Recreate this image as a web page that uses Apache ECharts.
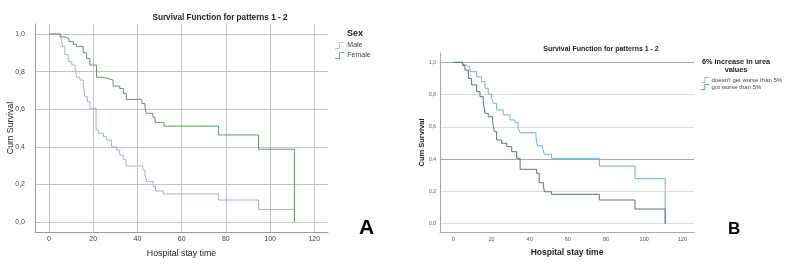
<!DOCTYPE html>
<html>
<head>
<meta charset="utf-8">
<script src="https://cdn.jsdelivr.net/npm/echarts@6/dist/echarts.min.js"></script>
<style>
  html, body { margin: 0; padding: 0; background: #fff; }
  #chart { width: 804px; height: 276px; }
</style>
</head>
<body>
<div id="chart"></div>
<script>
// tick values shared by both panels
const xTicks = [0, 20, 40, 60, 80, 100, 120];
const yTicks = [0, 0.2, 0.4, 0.6, 0.8, 1.0];

// panel A: by sex
const maleTime = [0, 5.4, 6.2, 7.2, 8.7, 10.3, 11.8, 12.5, 14, 15.5, 16.3, 17.3, 18.5, 21.3, 22.3, 24.6, 26, 28.3, 30.6, 32, 33.6, 34.8, 42.4, 43.4, 44.2, 47.2, 48.2, 51.7, 76.7, 94.8, 111];
const maleSurv = [1, 0.98, 0.933, 0.89, 0.853, 0.835, 0.817, 0.77, 0.755, 0.73, 0.667, 0.64, 0.605, 0.49, 0.472, 0.454, 0.436, 0.4, 0.383, 0.356, 0.333, 0.298, 0.277, 0.25, 0.215, 0.188, 0.165, 0.149, 0.117, 0.067, 0];
const femaleTime = [0, 5, 7, 9, 11, 12.5, 15.5, 17, 18.5, 21.5, 23.5, 26, 29, 32, 33.6, 35, 42, 43.4, 44, 47, 48, 52, 76.7, 94.8, 111];
const femaleSurv = [1, 0.985, 0.977, 0.96, 0.945, 0.933, 0.9, 0.87, 0.835, 0.77, 0.765, 0.755, 0.723, 0.71, 0.684, 0.652, 0.63, 0.613, 0.578, 0.557, 0.53, 0.51, 0.463, 0.387, 0];

// panel B: 5% increase in urea
const notWorseTime = [0, 4.9, 6.1, 8.7, 12.2, 14.8, 16.6, 18.3, 20, 21, 22.7, 26.2, 29.7, 32.3, 34, 35, 43.3, 44, 46.8, 47.7, 51.5, 76.5, 95.2, 111];
const notWorseSurv = [1, 0.985, 0.973, 0.942, 0.91, 0.88, 0.839, 0.804, 0.777, 0.746, 0.705, 0.674, 0.643, 0.626, 0.59, 0.564, 0.54, 0.483, 0.467, 0.43, 0.405, 0.357, 0.279, 0];
const worseTime = [0, 4.9, 6.1, 7.9, 9.6, 12.2, 14, 15.7, 16.6, 18.3, 20.6, 21.5, 22.7, 25.3, 28, 30.6, 33.2, 35, 43.7, 45, 47.2, 47.7, 51.5, 76.5, 95.2, 111];
const worseSurv = [1, 0.98, 0.952, 0.9, 0.86, 0.818, 0.787, 0.756, 0.684, 0.663, 0.632, 0.57, 0.519, 0.498, 0.478, 0.446, 0.405, 0.337, 0.312, 0.254, 0.238, 0.198, 0.182, 0.147, 0.091, 0];

const font = "'Liberation Sans', Arial, sans-serif";
const stepIcon = "path://M0,9 L6,9 L6,0 L14,0 L14,1.2 L7.2,1.2 L7.2,10.2 L0,10.2 Z";

const pairs = (t, s) => t.map((v, i) => [v, s[i]]);
const fmtY = (v) => v.toFixed(1).replace(".", ",");

const chart = echarts.init(document.getElementById("chart"));

const stepSeries = (name, t, s, color, idx) => ({
  name: name,
  type: "line",
  step: "end",
  xAxisIndex: idx,
  yAxisIndex: idx,
  symbol: "none",
  data: pairs(t, s),
  lineStyle: { color: color, width: 1 },
  itemStyle: { color: color },
});

const option = {
  animation: false,
  title: [
    { text: "Survival Function for patterns 1 - 2", left: 215, top: 9, textAlign: "center",
      textStyle: { fontFamily: font, fontSize: 8.2, fontWeight: "bold", color: "#222" } },
    { text: "Sex", left: 342, top: 24,
      textStyle: { fontFamily: font, fontSize: 9, fontWeight: "bold", color: "#222" } },
    { text: "A", left: 354, top: 213,
      textStyle: { fontFamily: font, fontSize: 21, fontWeight: "bold", color: "#000" } },
    { text: "Survival Function for patterns 1 - 2", left: 596, top: 41, textAlign: "center",
      textStyle: { fontFamily: font, fontSize: 7, fontWeight: "bold", color: "#222" } },
    { text: "6% increase in urea\nvalues", left: 731, top: 53, textAlign: "center",
      textStyle: { fontFamily: font, fontSize: 7.3, fontWeight: "bold", color: "#222", lineHeight: 8 } },
    { text: "B", left: 723, top: 216,
      textStyle: { fontFamily: font, fontSize: 17, fontWeight: "bold", color: "#000" } },
  ],
  legend: [
    { data: ["Male", "Female"], orient: "vertical", left: 330, top: 37,
      icon: stepIcon, itemWidth: 13, itemHeight: 7, itemGap: 3,
      lineStyle: { opacity: 0 },
      textStyle: { fontFamily: font, fontSize: 7, color: "#444", padding: [0, 0, 0, -4] } },
    { data: ["doesn't get worse than 5%", "got worse than 5%"], orient: "vertical", left: 696, top: 72,
      icon: stepIcon, itemWidth: 11, itemHeight: 6, itemGap: 1,
      lineStyle: { opacity: 0 },
      textStyle: { fontFamily: font, fontSize: 6, color: "#444", padding: [0, 0, 0, -4] } },
  ],
  grid: [
    { left: 35, top: 24, width: 293, height: 208 },
    { left: 440, top: 53, width: 254, height: 179 },
  ],
  xAxis: [
    {
      gridIndex: 0, type: "value", min: -6.33, max: 126.2,
      name: "Hospital stay time", nameLocation: "middle", nameGap: 17, nameMoveOverlap: false,
      nameTextStyle: { fontFamily: font, fontSize: 8.8, color: "#222" },
      axisLine: { show: true, onZero: false, lineStyle: { color: "#9a9a9a", width: 1 } },
      axisTick: { show: false, customValues: xTicks },
      axisLabel: { customValues: xTicks, fontFamily: font, fontSize: 7, color: "#444", margin: 4 },
      splitLine: { show: true, lineStyle: { color: "#c4c4c4", width: 1 } },
    },
    {
      gridIndex: 1, type: "value", min: -6.97, max: 126.1,
      name: "Hospital stay time", nameLocation: "middle", nameGap: 16, nameMoveOverlap: false,
      nameTextStyle: { fontFamily: font, fontSize: 8.5, fontWeight: "bold", color: "#222" },
      axisLine: { show: true, onZero: false, lineStyle: { color: "#a8a8a8", width: 1 } },
      axisTick: { show: false, customValues: xTicks },
      axisLabel: { customValues: xTicks, fontFamily: font, fontSize: 5.5, color: "#555", margin: 4 },
      splitLine: { show: false },
    },
  ],
  yAxis: [
    {
      gridIndex: 0, type: "value", min: -0.0532, max: 1.0532,
      name: "Cum Survival", nameLocation: "middle", nameGap: 20, nameMoveOverlap: false,
      nameTextStyle: { fontFamily: font, fontSize: 8.8, color: "#222" },
      axisLine: { show: true, onZero: false, lineStyle: { color: "#9a9a9a", width: 1 } },
      axisTick: { show: false, customValues: yTicks },
      axisLabel: { customValues: yTicks, formatter: fmtY, fontFamily: font, fontSize: 7, color: "#444", margin: 10 },
      splitLine: { show: true, lineStyle: { color: "#c4c4c4", width: 1 } },
    },
    {
      gridIndex: 1, type: "value", min: -0.0514, max: 1.0576,
      name: "Cum Survival", nameLocation: "middle", nameGap: 14, nameMoveOverlap: false,
      nameTextStyle: { fontFamily: font, fontSize: 7.5, fontWeight: "bold", color: "#222" },
      axisLine: { show: true, onZero: false, lineStyle: { color: "#a8a8a8", width: 1 } },
      axisTick: { show: false, customValues: yTicks },
      axisLabel: { customValues: yTicks, formatter: fmtY, fontFamily: font, fontSize: 5, color: "#555", margin: 4 },
      splitLine: { show: true, lineStyle: { color: ["#dcdcdc", "#dcdcdc", "#a9a9a9", "#dcdcdc", "#dcdcdc", "#a9a9a9"], width: 1 } },
    },
  ],
  series: [
    stepSeries("Male", maleTime, maleSurv, "#9db6d1", 0),
    stepSeries("Female", femaleTime, femaleSurv, "#679767", 0),
    stepSeries("doesn't get worse than 5%", notWorseTime, notWorseSurv, "#72b0d6", 1),
    stepSeries("got worse than 5%", worseTime, worseSurv, "#52777a", 1),
  ],
};

chart.setOption(option);
window.addEventListener("resize", () => chart.resize());
</script>
</body>
</html>
